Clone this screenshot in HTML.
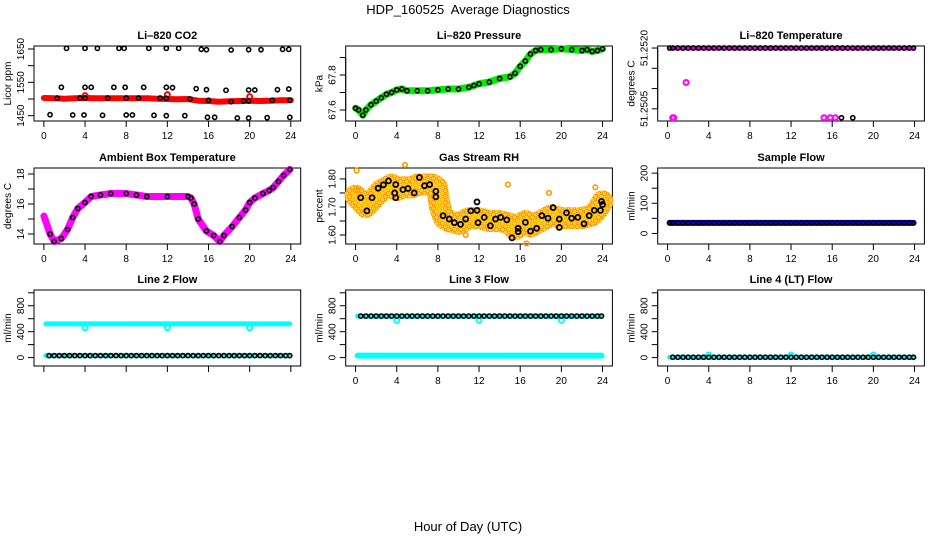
<!DOCTYPE html>
<html><head><meta charset="utf-8"><style>
html,body{margin:0;padding:0;background:#fff;}
svg{display:block;font-family:"Liberation Sans",Arial,sans-serif;}
</style></head><body>
<svg id="chart" width="936" height="540" viewBox="0 0 936 540" xmlns="http://www.w3.org/2000/svg">
<defs>
<pattern id="speckle" patternUnits="userSpaceOnUse" width="6" height="6">
<rect width="6" height="6" fill="#ffe066"/>
<circle cx="1.5" cy="1.5" r="1.4" fill="none" stroke="#ff8c00" stroke-width="1"/>
<circle cx="4.5" cy="4.5" r="1.4" fill="none" stroke="#ff8c00" stroke-width="1"/>
<rect x="4" y="0" width="2" height="2" fill="#ffd000"/>
<rect x="0" y="4" width="2" height="2" fill="#ffd000"/>
</pattern>
</defs>
<text x="468" y="14" font-size="13" text-anchor="middle">HDP_160525&#160; Average Diagnostics</text>
<text x="468" y="531" font-size="13" text-anchor="middle">Hour of Day (UTC)</text>
</svg>
<script>
// ---------- shared ----------
const xTicks = [0,4,8,12,16,20,24];
const halfHours = [0.2,0.5,1,1.5,2,2.5,3,3.5,4,4.5,5,5.5,6,6.5,7,7.5,8,8.5,9,9.5,10,10.5,11,11.5,12,12.5,13,13.5,14,14.5,15,15.5,16,16.5,17,17.5,18,18.5,19,19.5,20,20.5,21,21.5,22,22.5,23,23.5,23.9];

// ---------- CO2 ----------
const co2LineHours = [0,1,2,3,4,5,6,7,8,9,10,11,12,13,14,15,16,17,18,19,20,21,22,23,24];
const co2LineValues = [1503,1502,1501,1502,1503,1502,1502,1502,1502,1502,1502,1501,1500,1499,1500,1495,1494,1492,1493,1494,1495,1494,1495,1496,1496];
const co2SpikeHours = [4.0,12.0,20.0];
const co2SpikeValues = [1510,1513,1507];
const co2PointHours = [2.2,4.0,5.2,7.3,7.8,10.2,11.9,13.1,15.3,15.8,18.2,19.9,21.1,23.2,23.8,
 1.7,4.0,4.6,6.8,7.9,9.7,11.9,12.5,14.8,15.8,17.7,19.9,20.5,22.7,23.8,
 0.6,2.8,3.9,5.7,8.0,8.6,10.7,11.9,13.7,15.9,16.6,18.8,19.9,21.7,23.9,
 1.3,3.5,4.0,6.2,8.0,9.2,11.3,11.9,14.2,16.0,18.2,19.4,19.9,22.2,23.9];
const co2PointValues = [1652,1652,1652,1652,1652,1652,1652,1652,1649,1648,1647,1648,1648,1649,1649,
 1535,1535,1535,1535,1535,1535,1535,1534,1531,1528,1526,1527,1527,1528,1530,
 1453,1452,1452,1451,1452,1452,1451,1450,1450,1445,1445,1443,1443,1444,1445,
 1503,1503,1503,1503,1503,1503,1503,1502,1500,1496,1492,1494,1494,1496,1496];

// ---------- Pressure ----------
const presHours = [0,0.3,0.7,1,1.5,2,2.5,3,3.5,4,4.5,5,6,7,8,9,10,11,11.5,12,13,14,15,15.5,16,16.5,17,17.5,18,19,20,21,22,22.5,23,23.5,24];
const presValues = [67.61,67.6,67.57,67.6,67.63,67.65,67.67,67.69,67.7,67.715,67.72,67.71,67.71,67.71,67.715,67.72,67.72,67.73,67.74,67.75,67.76,67.78,67.79,67.81,67.85,67.88,67.92,67.94,67.945,67.945,67.95,67.945,67.94,67.945,67.935,67.94,67.95];

// ---------- Li-820 Temperature ----------
const tempTopValue = 51.2520;
const tempPinkHours = [0.5,0.6,1.8,15.2,15.8,16.3];
const tempPinkValues = [51.25028,51.25028,51.25115,51.25028,51.25028,51.25028];
const tempBlackHours = [16.9,18.0];
const tempBlackValues = [51.25028,51.25028];

// ---------- Ambient ----------
const ambHours = [0,0.6,1,1.7,2.3,2.8,3.3,4,4.6,5.5,6.5,8,9,10,12,14,14.3,14.6,15,15.8,16.5,17.1,17.5,18.3,19,19.6,20,20.5,21.3,21.9,22.3,22.8,23.3,23.9];
const ambValues = [15.2,14,13.5,13.7,14.3,15.1,15.7,16.1,16.5,16.6,16.7,16.7,16.6,16.5,16.5,16.5,16.4,16,15,14.2,13.9,13.5,13.9,14.5,15.1,15.6,16.1,16.4,16.7,16.9,17.1,17.5,17.9,18.3];

// ---------- RH ----------
const rhBandHours = [0,0.5,1,1.5,2,2.5,3,3.5,4,4.5,5,5.5,6,6.5,7,7.5,7.9,8.2,8.6,9,10,11,12,13,14,15,15.5,16,16.5,17,17.5,18,19,20,21,22,23,23.5,24];
const rhBandValues = [1.74,1.72,1.70,1.72,1.74,1.76,1.77,1.78,1.76,1.77,1.77,1.77,1.78,1.78,1.78,1.78,1.77,1.70,1.66,1.65,1.64,1.66,1.66,1.65,1.65,1.64,1.62,1.64,1.65,1.63,1.64,1.65,1.67,1.66,1.66,1.66,1.67,1.69,1.72];
const rhOutlierHours = [0.1,0.2,4.8,10.7,14.8,16.6,18.8,23.3];
const rhOutlierValues = [1.83,1.76,1.85,1.60,1.78,1.57,1.75,1.77];
const rhPointHours = [0.5,1.1,1.6,2.2,2.7,3.2,3.9,3.8,3.9,4.6,5.1,5.7,6.2,6.7,7.2,7.8,7.8,8.5,9.1,9.6,10.2,10.7,11.2,11.8,11.8,11.9,12.5,13.1,13.6,14.1,14.7,15.2,15.8,15.8,16.5,17.0,17.6,18.1,18.7,19.2,19.8,19.8,20.5,21.0,21.6,22.2,22.7,23.2,23.8,23.9,24.0];
const rhPointValues = [1.733,1.686,1.733,1.767,1.779,1.793,1.78,1.75,1.733,1.762,1.766,1.75,1.805,1.776,1.78,1.756,1.736,1.669,1.657,1.644,1.638,1.657,1.686,1.718,1.688,1.644,1.663,1.633,1.657,1.663,1.654,1.590,1.624,1.612,1.645,1.614,1.624,1.669,1.66,1.698,1.657,1.627,1.679,1.66,1.663,1.64,1.669,1.688,1.688,1.72,1.709];

// ---------- Flows ----------
const sampleFlowValue = 35;
const line2HighValue = 520;
const line2LowValue = 30;
const line2DipHours = [4,12,20];
const line2DipValues = [460,460,460];
const line3HighValue = 640;
const line3LowValue = 30;
const line3DipHours = [4,12,20];
const line3DipValues = [575,575,575];
const line4Value = 5;
const line4BumpHours = [4,12,20];
const line4BumpValues = [40,40,40];

const NS = "http://www.w3.org/2000/svg";
const svg = document.getElementById('chart');
function el(tag, attrs, parent){
  const e = document.createElementNS(NS, tag);
  for (const k in attrs) e.setAttribute(k, attrs[k]);
  (parent||svg).appendChild(e);
  return e;
}
const colLeft = [34, 345.7, 657.7];
const boxW = 266.7;
const rowTop = [46, 168, 290];
const rowBot = [121, 244, 366];

function makePanel(col, row, name, title, ylab, ylo, yhi, ticks, labels){
  const L = colLeft[col], R = L + boxW, T = rowTop[row], B = rowBot[row];
  const g = el('g', {});
  
  
  const xs = h => L + (h + 0.96) / 25.92 * boxW;
  const ys = v => B - (v - ylo) / (yhi - ylo) * (B - T);
  const box = el('rect', {x:L, y:T, width:boxW, height:B-T, fill:'none', stroke:'#000', 'stroke-width':1}, g);
  
  
  const t = el('text', {x:(L+R)/2, y:T-7, 'font-size':11, 'font-weight':'bold', 'text-anchor':'middle'}, g);
  t.textContent = title;
  
  
  const xa = el('g', {}, g);
  
  
  el('line', {x1:xs(0), x2:xs(24), y1:B, y2:B, stroke:'#000'}, xa);
  xTicks.forEach(h => {
    el('line', {x1:xs(h), x2:xs(h), y1:B, y2:B+6, stroke:'#000'}, xa);
    if (row !== 2 || col !== 0) {
      const tl = el('text', {x:xs(h), y:B+18, 'font-size':10, 'text-anchor':'middle'}, xa);
      tl.textContent = h;
    }
  });
  const ya = el('g', {}, g);
  
  
  el('line', {x1:L, x2:L, y1:ys(ticks[0]), y2:ys(ticks[ticks.length-1]), stroke:'#000'}, ya);
  ticks.forEach(v => el('line', {x1:L-6, x2:L, y1:ys(v), y2:ys(v), stroke:'#000'}, ya));
  labels.forEach(s => {
    const y = ys(parseFloat(s));
    const tl = el('text', {x:L-10, y:y, 'font-size':10, 'text-anchor':'middle', transform:`rotate(-90 ${L-10} ${y})`}, ya);
    tl.textContent = s;
  });
  const yl = el('text', {x:L-23, y:(T+B)/2, 'font-size':10, 'text-anchor':'middle', transform:`rotate(-90 ${L-23} ${(T+B)/2})`}, g);
  yl.textContent = ylab;
  
  
  return {g, xs, ys, L, R, T, B};
}
function line(p, hs, vs, color, w, name, opacity){
  const pts = hs.map((h,i) => p.xs(h).toFixed(1) + ',' + p.ys(vs[i]).toFixed(1)).join(' ');
  const pl = el('polyline', {points:pts, fill:'none', stroke:color, 'stroke-width':w, 'stroke-linejoin':'round', 'stroke-linecap':'round', 'stroke-opacity':opacity||1}, p.g);
  
  
}
function pts(p, hs, vs, color, r, sw, name){
  const gg = el('g', {}, p.g);
  
  
  hs.forEach((h,i) => el('circle', {cx:p.xs(h), cy:p.ys(vs[i]), r:r, fill:'none', stroke:color, 'stroke-width':sw}, gg));
}
function constArr(hs, v){ return hs.map(() => v); }

let p = makePanel(0,0,'co2','Li\u2013820 CO2','Licor ppm',1434,1659,[1450,1500,1550,1600,1650],['1450','1550','1650']);
line(p, co2LineHours, co2LineValues, '#ff0000', 6, 'co2-red-series');
pts(p, co2SpikeHours, co2SpikeValues, '#ff0000', 2.5, 2, 'co2-red-spikes');
pts(p, co2PointHours, co2PointValues, '#000', 2.1, 1.6, 'co2-black-points');

p = makePanel(1,0,'pressure','Li\u2013820 Pressure','kPa',67.537,67.966,[67.6,67.7,67.8,67.9],['67.6','67.8']);
line(p, presHours, presValues, '#00ee00', 7, 'pressure-green-series');
pts(p, presHours, presValues, '#000', 2.1, 1.6, 'pressure-black-points');

p = makePanel(2,0,'li820-temp','Li\u2013820 Temperature','degrees C',51.25020,51.25205,[51.2505,51.2510,51.2515,51.2520],['51.2505','51.2520']);
line(p, halfHours, constArr(halfHours, tempTopValue), '#ff00ff', 5, 'temp-pink-series');
pts(p, halfHours, constArr(halfHours, tempTopValue), '#000', 2.1, 1.6, 'temp-black-points');
pts(p, tempPinkHours, tempPinkValues, '#ff00ff', 2.5, 2, 'temp-pink-outliers');
pts(p, tempBlackHours, tempBlackValues, '#000', 2.1, 1.6, 'temp-black-outliers');

p = makePanel(0,1,'ambient','Ambient Box Temperature','degrees C',13.333,18.4,[14,15,16,17,18],['14','16','18']);
line(p, ambHours, ambValues, '#ff00ff', 7, 'ambient-pink-series');
pts(p, ambHours.slice(1), ambValues.slice(1), '#000', 2.1, 1.6, 'ambient-black-points');

p = makePanel(1,1,'rh','Gas Stream RH','percent',1.568,1.839,[1.60,1.65,1.70,1.75,1.80],['1.60','1.70','1.80']);
line(p, rhBandHours, rhBandValues, 'url(#speckle)', 22, 'rh-speckle-band');
line(p, rhBandHours, rhBandValues, '#ffd400', 8, 'rh-yellow-core', 0.5);
pts(p, rhOutlierHours, rhOutlierValues, '#ff9900', 2.3, 1.6, 'rh-outliers');
pts(p, rhPointHours, rhPointValues, '#000', 2.5, 1.8, 'rh-black-points');

p = makePanel(2,1,'sample-flow','Sample Flow','ml/min',-35,217,[0,50,100,150,200],['0','100','200']);
line(p, halfHours, constArr(halfHours, sampleFlowValue), '#0000ff', 6, 'sample-flow-blue-series');
pts(p, halfHours, constArr(halfHours, sampleFlowValue), '#000', 2.1, 1.6, 'sample-flow-black-points');

p = makePanel(0,2,'line2-flow','Line 2 Flow','ml/min',-130,1043,[0,200,400,600,800,1000],['0','400','800']);
line(p, halfHours, constArr(halfHours, line2HighValue), '#00ffff', 5, 'line2-cyan-high');
pts(p, line2DipHours, line2DipValues, '#00ffff', 2.5, 2, 'line2-cyan-dips');
line(p, halfHours, constArr(halfHours, line2LowValue), '#00ffff', 5, 'line2-cyan-low');
pts(p, halfHours.slice(1), constArr(halfHours.slice(1), line2LowValue), '#000', 2.1, 1.6, 'line2-black-points');

p = makePanel(1,2,'line3-flow','Line 3 Flow','ml/min',-130,1043,[0,200,400,600,800,1000],['0','400','800']);
line(p, halfHours, constArr(halfHours, line3LowValue), '#00ffff', 6, 'line3-cyan-low');
line(p, halfHours, constArr(halfHours, line3HighValue), '#00ffff', 5, 'line3-cyan-high');
pts(p, line3DipHours, line3DipValues, '#00ffff', 2.5, 2, 'line3-cyan-dips');
pts(p, halfHours.slice(1), constArr(halfHours.slice(1), line3HighValue), '#000', 2.1, 1.6, 'line3-black-points');

p = makePanel(2,2,'line4-flow','Line 4 (LT) Flow','ml/min',-130,1043,[0,200,400,600,800,1000],['0','400','800']);
line(p, halfHours, constArr(halfHours, line4Value), '#00ffff', 5, 'line4-cyan-series');
pts(p, line4BumpHours, line4BumpValues, '#00ffff', 2.5, 2, 'line4-cyan-bumps');
pts(p, halfHours.slice(1), constArr(halfHours.slice(1), line4Value), '#000', 2.1, 1.6, 'line4-black-points');
</script>
</body></html>
